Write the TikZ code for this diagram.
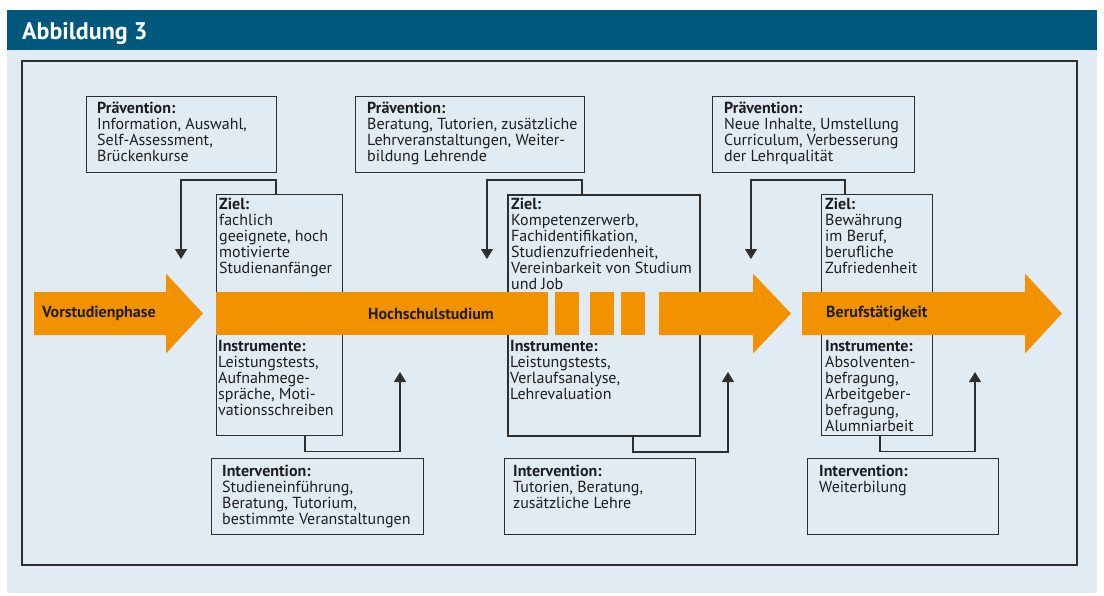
\documentclass[tikz,border=0pt]{standalone}
\usepackage{fontspec}
\setmainfont{PT Sans}
\usetikzlibrary{arrows.meta}
\definecolor{headblue}{HTML}{00587C}
\definecolor{paleblue}{HTML}{E1EBF4}
\definecolor{phaseorange}{HTML}{F39200}
\definecolor{linegray}{HTML}{2E2E2E}
\definecolor{textgray}{HTML}{1E1E1E}
\tikzset{
  infobox/.style={draw=linegray, line width=1.2pt, anchor=north west, inner sep=0pt},
  % Textblock: erste Grundlinie liegt 11.2pt unter dem Ankerpunkt
  infotext/.style={anchor=north west, align=left, inner sep=0pt, text=textgray,
    font=\fontsize{16}{16}\selectfont, execute at begin node=\strut, yshift=11.2pt},
  phaselabel/.style={inner sep=0pt, text=textgray, font=\bfseries\fontsize{16}{16}\selectfont},
  link/.style={draw=linegray, line width=1.2pt, -{Triangle[width=12pt,length=10pt]}}
}
\begin{document}
\begin{tikzpicture}[x=1pt,y=-1pt]
  \useasboundingbox (0,0) rectangle (1104,595);
  % Hintergrund und Kopfzeile
  \fill[paleblue] (7,50) rectangle (1097,593);
  \fill[headblue] (7,10) rectangle (1097,50);
  \node[anchor=base west, inner sep=0pt, text=white, font=\bfseries\fontsize{24}{26}\selectfont] (title) at (22,39.5) {Abbildung 3};
  \draw[linegray, line width=1.3pt] (22,61) rectangle (1077,565);

  % Kaesten
  \node[infobox, minimum width=190pt, minimum height=76pt] (prev1) at (86,96) {};
  \node[infobox, minimum width=229pt, minimum height=76pt] (prev2) at (355,96) {};
  \node[infobox, minimum width=202pt, minimum height=76pt] (prev3) at (712,96) {};
  \node[infobox, minimum width=126.5pt, minimum height=241pt] (ziel1) at (215.5,194) {};
  \node[infobox, line width=2pt, minimum width=192pt, minimum height=241pt] (ziel2) at (507,194) {};
  \node[infobox, minimum width=111.5pt, minimum height=241pt] (ziel3) at (820.5,194) {};
  \node[infobox, minimum width=212pt, minimum height=76pt] (int1) at (211,458) {};
  \node[infobox, minimum width=191pt, minimum height=76pt] (int2) at (504,458) {};
  \node[infobox, minimum width=191pt, minimum height=76pt] (int3) at (807,458) {};

  % Phasenpfeile
  \fill[phaseorange] (34,292) -- (166,292) -- (166,273.5) -- (203,313.5) -- (166,353.5) -- (166,335) -- (34,335) -- cycle;
  \fill[phaseorange] (215.5,292) rectangle (548,335);
  \foreach \a/\b in {555/579, 590/614, 621/645}
    \fill[phaseorange] (\a,292) rectangle (\b,335);
  \fill[phaseorange] (659,292) -- (753,292) -- (753,273.5) -- (791,313.5) -- (753,353.5) -- (753,335) -- (659,335) -- cycle;
  \fill[phaseorange] (802,292) -- (1025,292) -- (1025,273.5) -- (1062,313.5) -- (1025,353.5) -- (1025,335) -- (802,335) -- cycle;
  \node[phaselabel, anchor=west] (vor) at (42,313.5) {Vorstudienphase};
  \node[phaselabel] (hoch) at (431,313.5) {Hochschulstudium};
  \node[phaselabel, anchor=west] (beruf) at (826,313.5) {Berufstätigkeit};

  % Verbindungen
  \coordinate (in1) at (181,259);
  \coordinate (in2) at (487,259);
  \coordinate (in3) at (751,259);
  \coordinate (out1) at (400,372);
  \coordinate (out2) at (728,372);
  \coordinate (out3) at (975,372);
  \draw[link] ([xshift=60.5pt]ziel1.north west) -- ++(0,-14) -| (in1);
  \draw[link] ([xshift=75pt]ziel2.north west) -- ++(0,-14) -| (in2);
  \draw[link] ([xshift=24.5pt]ziel3.north west) -- ++(0,-14) -| (in3);
  \draw[link] ([xshift=89.5pt]ziel1.south west) -- ++(0,15) -| (out1);
  \draw[link] ([xshift=126pt]ziel2.south west) -- ++(0,15) -| (out2);
  \draw[link] ([xshift=59.5pt]ziel3.south west) -- ++(0,15) -| (out3);

  % Texte
  \node[infotext] (prev1txt) at (97,113) {\textbf{Prävention:}\\Information, Auswahl,\\Self-Assessment,\\Brückenkurse};
  \node[infotext] (prev2txt) at (367,113) {\textbf{Prävention:}\\Beratung, Tutorien, zusätzliche\\Lehrveranstaltungen, Weiter-\\bildung Lehrende};
  \node[infotext] (prev3txt) at (724,113) {\textbf{Prävention:}\\Neue Inhalte, Umstellung\\Curriculum, Verbesserung\\der Lehrqualität};
  \node[infotext] (ziel1txt) at (219,209) {\textbf{Ziel:}\\fachlich\\geeignete, hoch\\motivierte\\Studienanfänger};
  \node[infotext] (ziel2txt) at (511,209) {\textbf{Ziel:}\\Kompetenzerwerb,\\Fachidentifikation,\\Studienzufriedenheit,\\Vereinbarkeit von Studium\\und Job};
  \node[infotext] (ziel3txt) at (825,209) {\textbf{Ziel:}\\Bewährung\\im Beruf,\\berufliche\\Zufriedenheit};
  \node[infotext] (instr1txt) at (218,351) {\textbf{Instrumente:}\\Leistungstests,\\Aufnahmege-\\spräche, Moti-\\vationsschreiben};
  \node[infotext] (instr2txt) at (510,351) {\textbf{Instrumente:}\\Leistungstests,\\Verlaufsanalyse,\\Lehrevaluation};
  \node[infotext] (instr3txt) at (825,351) {\textbf{Instrumente:}\\Absolventen-\\befragung,\\Arbeitgeber-\\befragung,\\Alumniarbeit};
  \node[infotext] (int1txt) at (222,476) {\textbf{Intervention:}\\Studieneinführung,\\Beratung, Tutorium,\\bestimmte Veranstaltungen};
  \node[infotext] (int2txt) at (513,476) {\textbf{Intervention:}\\Tutorien, Beratung,\\zusätzliche Lehre};
  \node[infotext] (int3txt) at (819,476) {\textbf{Intervention:}\\Weiterbilung};
\end{tikzpicture}
\end{document}
